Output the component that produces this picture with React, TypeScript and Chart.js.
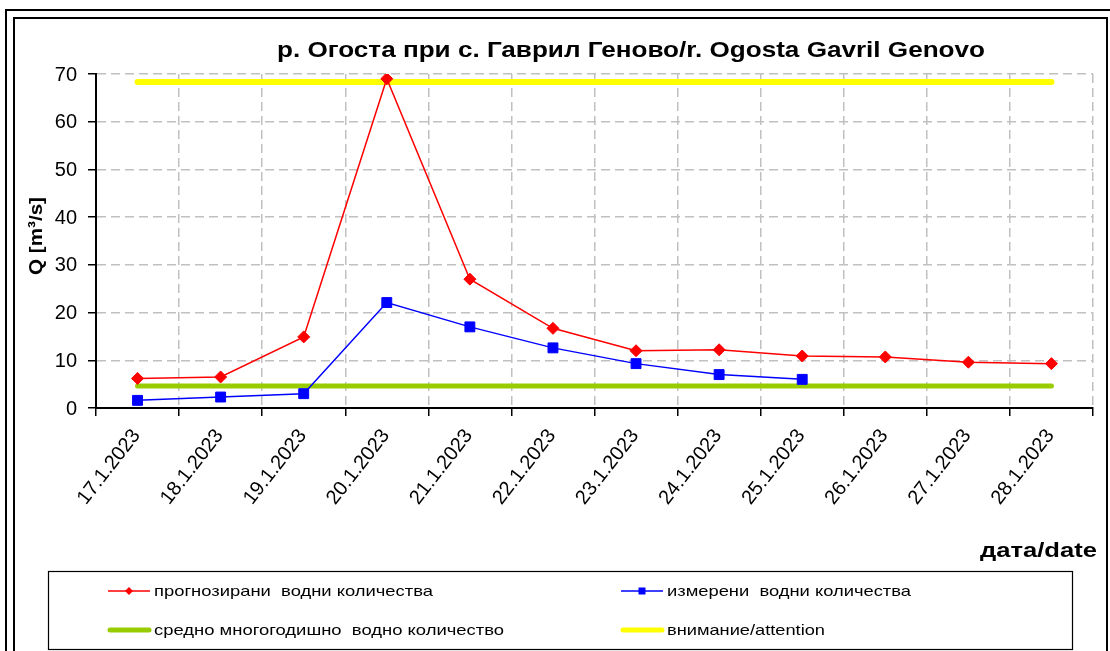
import React, { useEffect, useRef } from "react";
import { Chart, registerables } from "chart.js";

Chart.register(...registerables);

const categories = [
  "17.1.2023", "18.1.2023", "19.1.2023", "20.1.2023", "21.1.2023", "22.1.2023",
  "23.1.2023", "24.1.2023", "25.1.2023", "26.1.2023", "27.1.2023", "28.1.2023",
];
const forecast = [6.2, 6.5, 14.9, 69.0, 27.0, 16.7, 12.0, 12.2, 10.9, 10.7, 9.6, 9.3];
const measured = [1.6, 2.3, 3.0, 22.1, 17.0, 12.6, 9.3, 7.0, 6.0, null, null, null];
const meanLevel = [4.6, 4.6, 4.6, 4.6, 4.6, 4.6, 4.6, 4.6, 4.6, 4.6, 4.6, 4.6];
const attentionLevel = [68.3, 68.3, 68.3, 68.3, 68.3, 68.3, 68.3, 68.3, 68.3, 68.3, 68.3, 68.3];
const yTicks = [0, 10, 20, 30, 40, 50, 60, 70];
const seriesLabels = [
  "прогнозирани  водни количества",
  "измерени  водни количества",
  "средно многогодишно  водно количество",
  "внимание/attention",
];
const titleText = "р. Огоста при с. Гаврил Геново/r. Ogosta Gavril Genovo";
const yTitle = "Q [m³/s]";
const xTitle = "дата/date";

const RED = "#ff0000";
const BLUE = "#0000ff";
const GREEN = "#99cc00";
const YELLOW = "#ffff00";
const FONT = '"Liberation Sans", Arial, sans-serif';

function fitText(ctx: CanvasRenderingContext2D, text: string, x: number, y: number, font: string, width: number | null, align: string, baseline: CanvasTextBaseline) {
  ctx.save();
  ctx.font = font;
  ctx.textBaseline = baseline;
  ctx.textAlign = "left";
  const w = ctx.measureText(text).width;
  const sx = width ? width / w : 1;
  ctx.translate(x, y);
  ctx.scale(sx, 1);
  const x0 = align === "left" ? 0 : align === "right" ? -w : -w / 2;
  ctx.fillText(text, x0, 0);
  ctx.restore();
}

const decorPlugin = {
  id: "decor",
  beforeDraw(chart: any) {
    const ctx = chart.ctx as CanvasRenderingContext2D;
    ctx.save();
    ctx.fillStyle = "#ffffff";
    ctx.fillRect(0, 0, chart.width, chart.height);
    ctx.restore();
  },
  afterDraw(chart: any) {
    const ctx = chart.ctx as CanvasRenderingContext2D;
    const xs = chart.scales.x;
    const ys = chart.scales.y;
    ctx.save();
    // frames
    ctx.strokeStyle = "#000";
    ctx.lineWidth = 2;
    ctx.strokeRect(6, 10, 1120, 700);
    ctx.lineWidth = 2;
    ctx.strokeRect(14, 18, 1093, 700);

    ctx.fillStyle = "#000";
    // title
    fitText(ctx, titleText, 277, 57, `bold 22px ${FONT}`, 708, "left", "alphabetic");

    // y title
    ctx.save();
    ctx.translate(42, 236);
    ctx.rotate(-Math.PI / 2);
    fitText(ctx, yTitle, 0, 0, `bold 19px ${FONT}`, 78, "center", "alphabetic");
    ctx.restore();

    // y tick labels
    yTicks.forEach((v) => {
      const py = ys.getPixelForValue(v);
      fitText(ctx, String(v), 77, py + 1, `20px ${FONT}`, null, "right", "middle");
    });

    // x tick labels
    const ang = (52 * Math.PI) / 180;
    categories.forEach((c, i) => {
      const px = xs.getPixelForValue(i);
      ctx.save();
      ctx.translate(px - 1, 432);
      ctx.rotate(-ang);
      ctx.font = `20px ${FONT}`;
      ctx.textAlign = "right";
      ctx.textBaseline = "middle";
      ctx.fillText(c, 0, 0);
      ctx.restore();
    });

    // x title
    fitText(ctx, xTitle, 1097, 557, `bold 21px ${FONT}`, 117, "right", "alphabetic");

    // legend box
    ctx.lineWidth = 1.2;
    ctx.strokeStyle = "#000";
    ctx.strokeRect(48.5, 571.5, 1024, 78);

    const row1 = 591;
    const row2 = 630;
    // red
    ctx.strokeStyle = RED;
    ctx.lineWidth = 1.5;
    ctx.beginPath();
    ctx.moveTo(108, row1);
    ctx.lineTo(150, row1);
    ctx.stroke();
    ctx.fillStyle = RED;
    ctx.beginPath();
    ctx.moveTo(129, row1 - 4);
    ctx.lineTo(133, row1);
    ctx.lineTo(129, row1 + 4);
    ctx.lineTo(125, row1);
    ctx.closePath();
    ctx.fill();
    // blue
    ctx.strokeStyle = BLUE;
    ctx.beginPath();
    ctx.moveTo(621, row1);
    ctx.lineTo(663, row1);
    ctx.stroke();
    ctx.fillStyle = BLUE;
    ctx.fillRect(638.5, row1 - 3.5, 7, 7);
    // green
    ctx.lineCap = "round";
    ctx.lineWidth = 5;
    ctx.strokeStyle = GREEN;
    ctx.beginPath();
    ctx.moveTo(110, row2);
    ctx.lineTo(149, row2);
    ctx.stroke();
    // yellow
    ctx.strokeStyle = YELLOW;
    ctx.beginPath();
    ctx.moveTo(623, row2);
    ctx.lineTo(662, row2);
    ctx.stroke();

    ctx.fillStyle = "#000";
    fitText(ctx, seriesLabels[0], 154, row1 + 1, `15px ${FONT}`, 279, "left", "middle");
    fitText(ctx, seriesLabels[1], 667, row1 + 1, `15px ${FONT}`, 244, "left", "middle");
    fitText(ctx, seriesLabels[2], 154, row2 + 1, `15px ${FONT}`, 350, "left", "middle");
    fitText(ctx, seriesLabels[3], 667, row2 + 1, `15px ${FONT}`, 158, "left", "middle");
    ctx.restore();
  },
};

export default function App() {
  const canvasRef = useRef<HTMLCanvasElement | null>(null);

  useEffect(() => {
    const canvas = canvasRef.current;
    if (!canvas) return;
    const chart = new Chart(canvas, {
      type: "line",
      data: {
        labels: categories,
        datasets: [
          {
            label: seriesLabels[0],
            data: forecast,
            borderColor: RED,
            backgroundColor: RED,
            borderWidth: 1.5,
            pointStyle: "rectRot",
            pointRadius: 6,
            pointBorderWidth: 1,
            pointBackgroundColor: RED,
            pointBorderColor: RED,
            tension: 0,
          },
          {
            label: seriesLabels[1],
            data: measured,
            borderColor: BLUE,
            backgroundColor: BLUE,
            borderWidth: 1.5,
            pointStyle: "rect",
            pointRadius: 7,
            pointBorderWidth: 1,
            pointBackgroundColor: BLUE,
            pointBorderColor: BLUE,
            tension: 0,
          },
          {
            label: seriesLabels[2],
            data: meanLevel,
            borderColor: GREEN,
            backgroundColor: GREEN,
            borderWidth: 5,
            borderCapStyle: "round",
            pointRadius: 0,
          },
          {
            label: seriesLabels[3],
            data: attentionLevel,
            borderColor: YELLOW,
            backgroundColor: YELLOW,
            borderWidth: 6,
            borderCapStyle: "round",
            pointRadius: 0,
          },
        ],
      },
      options: {
        responsive: false,
        animation: false,
        devicePixelRatio: 1,
        layout: { padding: { left: 88, right: 17, top: 74, bottom: 235 }, autoPadding: false },
        plugins: {
          legend: { display: false },
          title: { display: false },
          tooltip: { enabled: false },
        },
        scales: {
          x: {
            type: "category",
            offset: true,
            grid: {
              offset: true,
              color: "#c0c0c0",
              lineWidth: 1.5,
              drawTicks: true,
              tickLength: 8,
              tickColor: "#000",
              tickWidth: 1.5,
              tickBorderDash: [],
            },
            border: { display: true, color: "#000", width: 2, dash: [9, 5] },
            ticks: { display: false },
          },
          y: {
            min: 0,
            max: 70,
            ticks: { display: false, stepSize: 10 },
            grid: {
              color: "#c0c0c0",
              lineWidth: 1.5,
              drawTicks: true,
              tickLength: 8,
              tickColor: "#000",
              tickWidth: 1.5,
              tickBorderDash: [],
            },
            border: { display: true, color: "#000", width: 2, dash: [9, 5] },
          },
        },
      },
      plugins: [decorPlugin],
    });
    return () => chart.destroy();
  }, []);

  return (
    <div style={{ position: "absolute", left: 0, top: 0, width: 1110, height: 651, background: "#fff" }}>
      <canvas ref={canvasRef} width={1110} height={651} style={{ display: "block" }} />
    </div>
  );
}
